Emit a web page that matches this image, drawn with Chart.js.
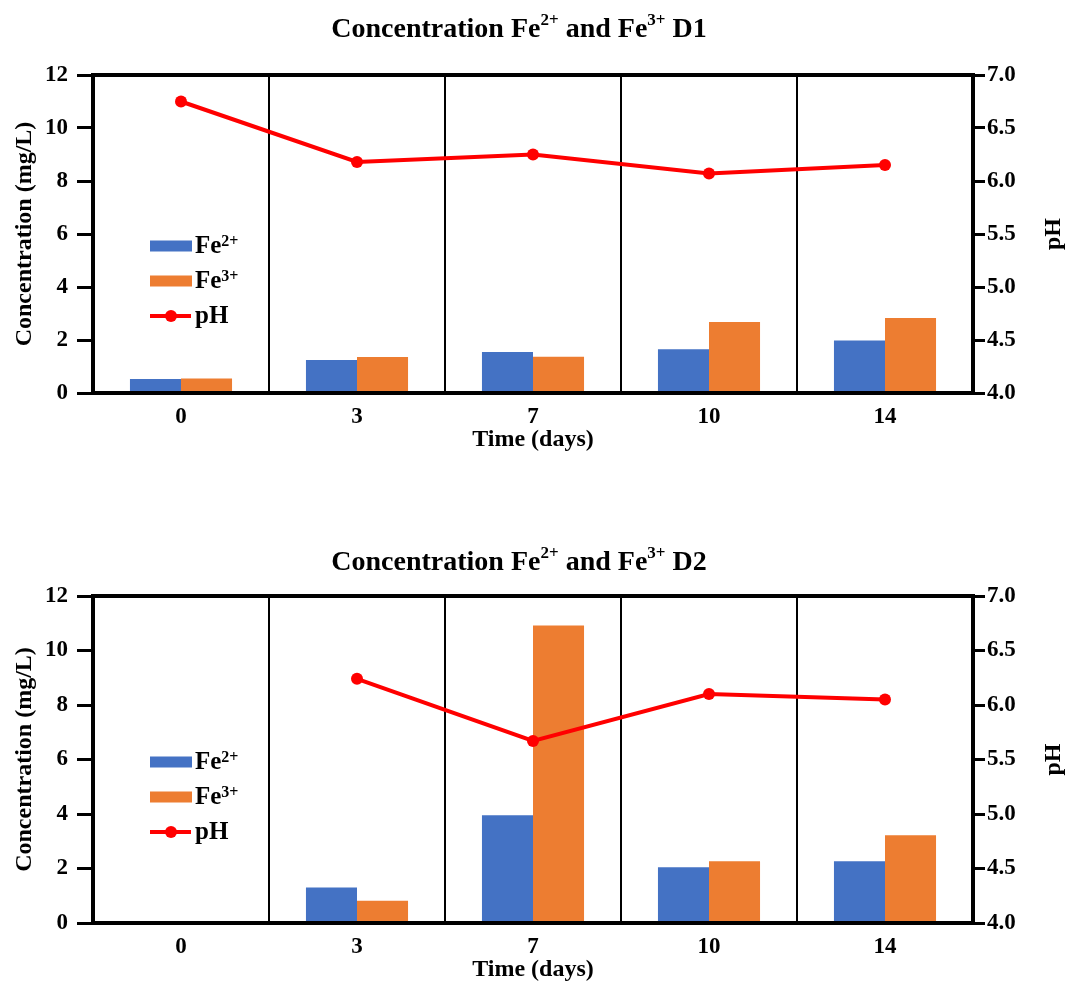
<!DOCTYPE html>
<html>
<head>
<meta charset="utf-8">
<title>Concentration Fe2+ and Fe3+</title>
<script src="https://cdn.jsdelivr.net/npm/chart.js@4.4.1/dist/chart.umd.min.js"></script>
<style>
  body { margin: 0; background: #fff; }
  .panel { position: absolute; left: 0; width: 1076px; height: 492px; }
</style>
</head>
<body>
<div class="panel" style="top:0"><canvas id="chart-d1"></canvas></div>
<div class="panel" style="top:492px"><canvas id="chart-d2"></canvas></div>
<script>
// Sampling days and axis ticks
const days = ['0', '3', '7', '10', '14'];
const concTicks = [0, 2, 4, 6, 8, 10, 12];
const phTicks = [4.0, 4.5, 5.0, 5.5, 6.0, 6.5, 7.0];

// D1 measurements
const fe2D1 = [0.53, 1.25, 1.55, 1.65, 1.98];
const fe3D1 = [0.55, 1.36, 1.37, 2.68, 2.83];
const phD1 = [6.75, 6.18, 6.25, 6.07, 6.15];

// D2 measurements (no reading on day 0)
const fe2D2 = [null, 1.3, 3.95, 2.05, 2.27];
const fe3D2 = [null, 0.82, 10.92, 2.27, 3.22];
const phD2 = [null, 6.24, 5.67, 6.10, 6.05];

const SERIF = "'Liberation Serif', 'Times New Roman', serif";
const BLACK = '#000';

// Draws a run of text pieces, some of them superscript, on one baseline
function drawRichText(ctx, x, y, parts, size, supSize, raise, align) {
    const widths = parts.map(([text, sup]) => {
        ctx.font = `bold ${sup ? supSize : size}px ${SERIF}`;
        return ctx.measureText(text).width;
    });
    const total = widths.reduce((a, b) => a + b, 0);
    let cx = align === 'center' ? x - total / 2 : x;
    ctx.textAlign = 'left';
    ctx.textBaseline = 'alphabetic';
    ctx.fillStyle = BLACK;
    parts.forEach(([text, sup], i) => {
        ctx.font = `bold ${sup ? supSize : size}px ${SERIF}`;
        ctx.fillText(text, cx, sup ? y - raise : y);
        cx += widths[i];
    });
}

// "Fe2+" -> [['Fe', false], ['2+', true]]
function splitIon(label) {
    const m = label.match(/^(\D+)(\d\+)$/);
    return m ? [[m[1], false], [m[2], true]] : [[label, false]];
}

// Title, frame, legend and right axis title
const panelDecor = {
    id: 'panelDecor',
    afterDatasetsDraw(chart, args, opts) {
        const ctx = chart.ctx;
        const area = chart.chartArea;
        ctx.save();

        // heavy top and bottom edges of the plot frame
        ctx.strokeStyle = BLACK;
        ctx.lineWidth = 4;
        ctx.beginPath();
        ctx.moveTo(area.left - 2, area.top);
        ctx.lineTo(area.right + 2, area.top);
        ctx.moveTo(area.left - 2, area.bottom);
        ctx.lineTo(area.right + 2, area.bottom);
        ctx.stroke();

        // chart title
        drawRichText(ctx, opts.titleX, opts.titleY, [
            ['Concentration Fe', false], ['2+', true],
            [' and Fe', false], ['3+', true],
            [' ' + opts.tag, false]
        ], 28, 17, 12, 'center');

        // right axis title, reading bottom to top
        ctx.save();
        ctx.translate(1054, (area.top + area.bottom) / 2);
        ctx.rotate(-Math.PI / 2);
        ctx.font = `bold 24px ${SERIF}`;
        ctx.textAlign = 'center';
        ctx.textBaseline = 'middle';
        ctx.fillStyle = BLACK;
        ctx.fillText('pH', 0, 0);
        ctx.restore();

        // legend inside the plot
        chart.data.datasets.forEach((ds, i) => {
            const cy = opts.legendY + i * 35;
            if (ds.type === 'line') {
                ctx.strokeStyle = ds.borderColor;
                ctx.lineWidth = 4;
                ctx.beginPath();
                ctx.moveTo(150, cy);
                ctx.lineTo(191, cy);
                ctx.stroke();
                ctx.fillStyle = ds.borderColor;
                ctx.beginPath();
                ctx.arc(171, cy, 6, 0, Math.PI * 2);
                ctx.fill();
            } else {
                ctx.fillStyle = ds.backgroundColor;
                ctx.fillRect(150, cy - 5.5, 42, 11);
            }
            drawRichText(ctx, 195, cy + 7, splitIon(ds.label), 25, 16, 7, 'left');
        });

        ctx.restore();
    }
};

const tickFont = { family: SERIF, size: 23, weight: 'bold' };
const titleFont = { family: SERIF, size: 24, weight: 'bold' };

function buildChart(canvasId, tag, fe2, fe3, ph, box) {
    return new Chart(document.getElementById(canvasId), {
        type: 'bar',
        data: {
            labels: days,
            datasets: [
                { label: 'Fe2+', data: fe2, backgroundColor: '#4472C4', borderWidth: 0, order: 1 },
                { label: 'Fe3+', data: fe3, backgroundColor: '#ED7D31', borderWidth: 0, order: 1 },
                {
                    type: 'line', label: 'pH', data: ph, yAxisID: 'y1', order: 0,
                    borderColor: '#FF0000', backgroundColor: '#FF0000', borderWidth: 4,
                    pointRadius: 6, pointHoverRadius: 6, pointBorderWidth: 0
                }
            ]
        },
        options: {
            responsive: true,
            maintainAspectRatio: false,
            animation: false,
            datasets: { bar: { categoryPercentage: 0.58, barPercentage: 1.0 } },
            layout: { padding: { top: box.top, left: 0, right: 0, bottom: 0 } },
            plugins: {
                legend: { display: false },
                tooltip: { enabled: false },
                panelDecor: { tag: tag, titleX: 519, titleY: box.titleY, legendY: box.legendY }
            },
            scales: {
                x: {
                    grid: { offset: true, color: BLACK, lineWidth: 2, drawTicks: false },
                    border: { color: BLACK, width: 4 },
                    ticks: { color: BLACK, font: tickFont, padding: 10 },
                    title: {
                        display: true, text: 'Time (days)', color: BLACK, font: titleFont,
                        padding: { top: 0, bottom: box.xTitlePad }
                    },
                    afterFit: s => { s.height = box.xHeight; }
                },
                y: {
                    position: 'left',
                    min: concTicks[0],
                    max: concTicks[concTicks.length - 1],
                    afterBuildTicks: s => { s.ticks = concTicks.map(v => ({ value: v })); },
                    grid: { drawOnChartArea: false, tickLength: 16, tickWidth: 3, tickColor: BLACK },
                    border: { color: BLACK, width: 4 },
                    ticks: { color: BLACK, font: tickFont, padding: 9 },
                    title: {
                        display: true, text: 'Concentration (mg/L)', color: BLACK, font: titleFont,
                        padding: { top: 10, bottom: 0 }
                    },
                    afterFit: s => { s.width = 93; }
                },
                y1: {
                    position: 'right',
                    min: phTicks[0],
                    max: phTicks[phTicks.length - 1],
                    afterBuildTicks: s => { s.ticks = phTicks.map(v => ({ value: v })); },
                    grid: { drawOnChartArea: false, tickLength: 12, tickWidth: 3, tickColor: BLACK },
                    border: { color: BLACK, width: 4 },
                    ticks: { color: BLACK, font: tickFont, padding: 2, callback: v => Number(v).toFixed(1) },
                    afterFit: s => { s.width = 103; }
                }
            }
        },
        plugins: [panelDecor]
    });
}

buildChart('chart-d1', 'D1', fe2D1, fe3D1, phD1,
    { top: 75, xHeight: 99, xTitlePad: 38, titleY: 37, legendY: 246 });
buildChart('chart-d2', 'D2', fe2D2, fe3D2, phD2,
    { top: 104, xHeight: 61, xTitlePad: 0, titleY: 78, legendY: 270 });
</script>
</body>
</html>
